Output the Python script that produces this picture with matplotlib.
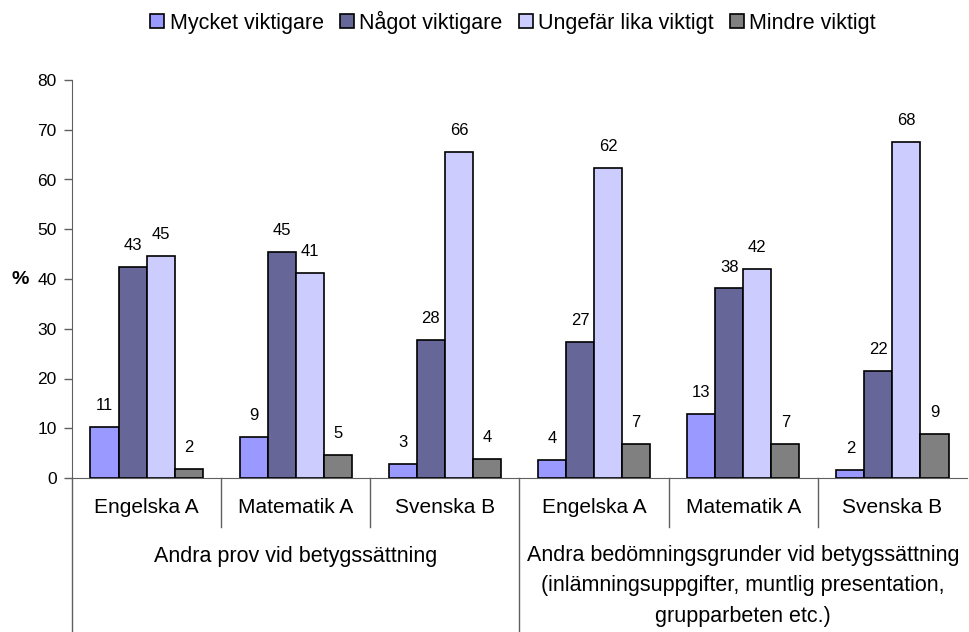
import numpy as np
import matplotlib
matplotlib.use("Agg")
import matplotlib.pyplot as plt
from matplotlib.patches import Patch

plt.rcParams['font.family'] = ['Liberation Sans', 'DejaVu Sans']

# data
subjects = ["Engelska A", "Matematik A", "Svenska B", "Engelska A", "Matematik A", "Svenska B"]
groups = ["Andra prov vid betygssättning",
          "Andra bedömningsgrunder vid betygssättning\n(inlämningsuppgifter, muntlig presentation,\ngrupparbeten etc.)"]
series = ["Mycket viktigare", "Något viktigare", "Ungefär lika viktigt", "Mindre viktigt"]
mycket = [10.3, 8.2, 2.8, 3.6, 12.9, 1.6]
nagot = [42.5, 45.4, 27.7, 27.3, 38.1, 21.6]
ungefar = [44.6, 41.3, 65.6, 62.3, 42.1, 67.5]
mindre = [1.9, 4.6, 3.9, 6.8, 6.8, 8.8]
mycket_lbl = [11, 9, 3, 4, 13, 2]
nagot_lbl = [43, 45, 28, 27, 38, 22]
ungefar_lbl = [45, 41, 66, 62, 42, 68]
mindre_lbl = [2, 5, 4, 7, 7, 9]
colors = ["#9999FF", "#666699", "#CCCCFF", "#808080"]

values = [mycket, nagot, ungefar, mindre]
labels = [mycket_lbl, nagot_lbl, ungefar_lbl, mindre_lbl]

fig = plt.figure(figsize=(9.7, 6.32), dpi=100)
ax = fig.add_axes([72/970, 1-478/632, 895/970, 398/632])

x = np.arange(len(subjects))
w = 0.188
for i in range(4):
    pos = x + (i - 1.5) * w
    ax.bar(pos, values[i], w, color=colors[i], edgecolor="black", linewidth=1.2, zorder=3)
    for px, v, l in zip(pos, values[i], labels[i]):
        ax.text(px, v + 2.8, str(l), ha="center", va="bottom", fontsize=12)

ax.set_xlim(-0.5, len(subjects) - 0.5)
ax.set_ylim(0, 80)
ax.set_yticks(range(0, 81, 10))
ax.tick_params(axis="y", labelsize=12.5, length=6, width=1, direction="out", pad=5,
               color="#606060")
ax.set_xticks([])
for s in ["top", "right"]:
    ax.spines[s].set_visible(False)
ax.spines["bottom"].set_color("#606060")
ax.spines["left"].set_color("#606060")
ax.text(-0.058, 40, "%", transform=ax.get_yaxis_transform(), ha="center", va="center",
        fontsize=14, fontweight="bold")

# multi-level category axis
tr = ax.get_xaxis_transform()
for b in [0.5, 1.5, 3.5, 4.5]:
    ax.plot([b, b], [0, -0.123], transform=tr, color="#606060", lw=1, clip_on=False)
for b in [-0.5, 2.5]:
    ax.plot([b, b], [0, -0.4], transform=tr, color="#606060", lw=1, clip_on=False)
for xi, s in zip(x, subjects):
    ax.text(xi, -0.075, s, transform=tr, ha="center", va="center", fontsize=15)
ax.text(1, -0.196, groups[0], transform=tr, ha="center", va="center", fontsize=15.5)
ax.text(4, -0.168, groups[1], transform=tr, ha="center", va="top", fontsize=15.5,
        linespacing=1.6)

handles = [Patch(facecolor=c, edgecolor="black", linewidth=1.2) for c in colors]
fig.legend(handles, series, loc="center", bbox_to_anchor=(513/970, 1-22/632), ncol=4,
           frameon=False, fontsize=15.5, handlelength=0.65, handleheight=0.65,
           handletextpad=0.25, columnspacing=0.75)

fig.savefig("out.png", dpi=100)
